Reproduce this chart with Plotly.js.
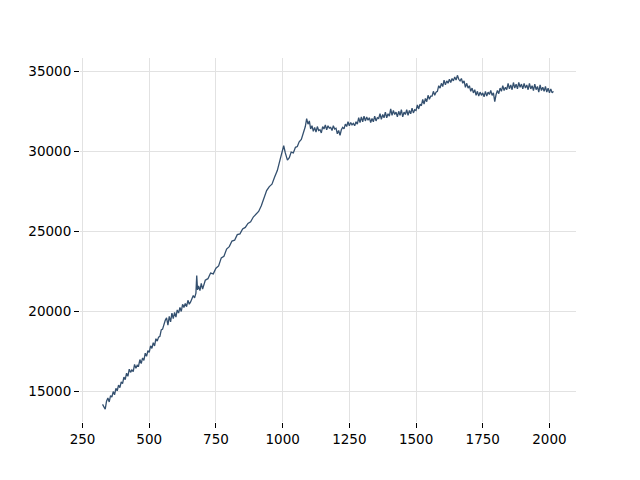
<!DOCTYPE html>
<html>
<head>
<meta charset="utf-8">
<script src="https://cdn.plot.ly/plotly-3.0.1.min.js"></script>
<style>html,body{margin:0;padding:0;background:#fff;}#chart{width:640px;height:480px;}</style>
</head>
<body>
<div id="chart"></div>
<script>
var xValues = [
325,330,335,340,345,350,355,360,365,370,
375,380,385,390,395,400,405,410,415,420,
425,430,435,440,445,450,455,460,465,470,
475,480,485,490,495,500,505,510,515,520,
525,530,535,540,545,550,555,560,565,570,
575,580,585,590,595,600,605,610,615,620,
625,630,635,640,645,650,655,660,665,670,
675,678,681,685,690,695,700,
710,720,730,740,750,760,770,780,790,800,
810,820,830,840,850,860,870,880,890,900,
910,920,930,940,950,960,970,980,990,1000,
1004,1010,1018,1025,1032,1040,1048,1055,1062,1070,
1078,1085,1090,
1095,1100,1105,1110,1115,1120,1125,1130,1135,1140,
1145,1150,1155,1160,1165,1170,1175,1180,1185,1190,
1195,1200,1205,1210,1215,1220,1225,1230,1235,1240,
1245,1250,1255,1260,1265,1270,1275,1280,1285,1290,
1295,1300,1305,1310,1315,1320,1325,1330,1335,1340,
1345,1350,1355,1360,1365,1370,1375,1380,1385,1390,
1395,1400,1405,1410,1415,1420,1425,1430,1435,1440,
1445,1450,1455,1460,1465,1470,1475,1480,1485,1490,
1495,1500,1505,1510,1515,1520,1525,1530,1535,1540,
1545,1550,1555,1560,1565,1570,1575,1580,1585,1590,
1595,1600,1605,1610,1615,1620,1625,1630,1635,1640,
1645,1650,1655,1660,1665,1670,1675,1680,1685,1690,
1695,1700,1705,1710,1715,1720,1725,1730,1735,1740,
1745,1750,1755,1760,1765,1770,1775,1780,1785,1790,
1795,1800,1805,1810,1815,1820,1825,1830,1835,1840,
1845,1850,1855,1860,1865,1870,1875,1880,1885,1890,
1895,1900,1905,1910,1915,1920,1925,1930,1935,1940,
1945,1950,1955,1960,1965,1970,1975,1980,1985,1990,
1995,2000,2005,2010,2015];
var yValues = [
14200,14050,13900,14400,14600,14350,14750,14650,15000,14800,
15200,15050,15400,15250,15600,15500,15900,15750,16150,15950,
16400,16200,16350,16250,16700,16450,16650,16600,17000,16750,
17100,16950,17400,17200,17550,17450,17850,17700,18050,17850,
18300,18150,18400,18450,18850,18900,19250,19450,19600,19150,
19700,19350,19900,19550,19950,19650,20100,19900,20250,20000,
20450,20250,20500,20300,20700,20450,20600,20800,21000,20850,
21150,22250,21350,21600,21300,21750,21400,
21950,22050,22400,22350,22700,22850,23350,23450,23900,24050,
24400,24450,24800,24850,25150,25250,25500,25600,25900,26050,
26250,26600,27050,27550,27800,27950,28400,28800,29450,30100,
30350,29900,29450,29600,29950,29900,30250,30300,30600,30750,
31200,31550,32050,
31700,31900,31400,31600,31250,31500,31200,31550,31300,31350,
31150,31550,31400,31650,31350,31600,31450,31500,31300,31600,
31400,31450,31100,31300,31000,31350,31500,31400,31700,31550,
31850,31600,31800,31650,31750,31600,31850,31700,32100,31800,
32150,31850,32200,31900,32150,31950,32100,31800,32050,31850,
32200,31900,32100,32050,32350,32000,32300,32100,32450,32100,
32350,32200,32650,32250,32550,32300,32450,32150,32500,32250,
32600,32150,32450,32300,32600,32250,32550,32350,32700,32400,
32600,32550,32900,32650,32950,32850,33250,32950,33300,33100,
33500,33250,33450,33450,33750,33500,33700,33750,34100,33950,
34250,34050,34450,34150,34400,34250,34500,34300,34550,34400,
34650,34450,34750,34500,34400,34550,34250,34400,34000,34250,
33950,34100,33750,33950,33650,33850,33500,33750,33450,33700,
33500,33650,33400,33750,33450,33700,33550,33800,33500,33650,
33100,33550,33800,33600,33950,33750,34100,33800,34000,33850,
34250,33900,34150,33850,34300,33950,34200,33900,34300,34000,
34200,33900,34250,33950,34150,33850,34250,33900,34100,33800,
34200,33850,34050,33700,34150,33800,34000,33750,34050,33700,
33950,33650,33900,33650,33750];
var xTicks = [250,500,750,1000,1250,1500,1750,2000];
var yTicks = [15000,20000,25000,30000,35000];

var trace = {
  x: xValues, y: yValues, type: 'scatter', mode: 'lines',
  line: {color: '#34506f', width: 1.3}, hoverinfo: 'none'
};
var axisCommon = {
  showline: false, zeroline: false, showgrid: true,
  gridcolor: '#e2e2e2', gridwidth: 1,
  ticks: 'outside', ticklen: 5, tickwidth: 1, tickcolor: '#000',
  tickfont: {family: 'DejaVu Sans', size: 13.5, color: '#000'}
};
var layout = {
  width: 640, height: 480,
  margin: {l: 80, r: 64, t: 58, b: 58},
  paper_bgcolor: '#fff', plot_bgcolor: '#fff',
  showlegend: false,
  xaxis: Object.assign({}, axisCommon, {range: [240.5, 2099.5], tickmode: 'array', tickvals: xTicks, ticktext: xTicks.map(String)}),
  yaxis: Object.assign({}, axisCommon, {range: [13100, 35830], tickmode: 'array', tickvals: yTicks, ticktext: yTicks.map(String)})
};
Plotly.newPlot('chart', [trace], layout, {staticPlot: true, displayModeBar: false});
</script>
</body>
</html>
